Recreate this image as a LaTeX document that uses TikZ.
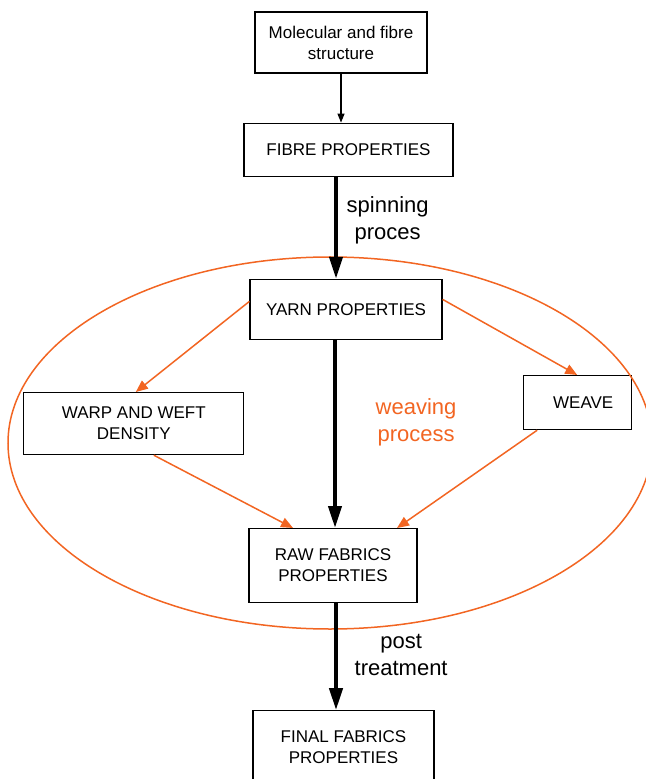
\documentclass[tikz,border=0pt]{standalone}
\usepackage{fontspec}
\setmainfont{Liberation Sans}
\usetikzlibrary{arrows.meta,positioning}
\definecolor{weaveorange}{RGB}{242,101,34}
\tikzset{
    %Define style for boxes
    punkt/.style={
           rectangle,
           draw=black, line width=0.6pt,
           fill=white,
           align=center,
           font=\fontsize{8.5}{10.5}\selectfont,
           inner sep=0pt},
    % Define arrow styles
    imply/.style={
           -{Triangle[length=4.5pt,width=3.5pt]},
           line width=0.6pt},
    flow/.style={
           -{Triangle[length=11pt,width=6.5pt]},
           line width=2pt},
    feed/.style={
           -{Triangle[length=6pt,width=5pt]},
           draw=weaveorange, line width=0.75pt},
    tag/.style={
           align=center,
           font=\fontsize{11}{13.5}\selectfont},
}
\begin{document}
\begin{tikzpicture}
 \useasboundingbox (0,0) rectangle (322.5pt,-389.5pt);
 %nodes
 \node[punkt, minimum width=86pt, minimum height=30.5pt] (mol) at (170.5pt,-21.25pt) {Molecular and fibre\\structure};
 \node[punkt, minimum width=104.5pt, minimum height=26.5pt, below=24.5pt of mol, xshift=3.75pt] (fibre) {FIBRE PROPERTIES};
 \node[punkt, minimum width=96pt, minimum height=30pt, below=51pt of fibre, xshift=-1.25pt] (yarn) {YARN PROPERTIES};
 \node[punkt, minimum width=84pt, minimum height=37pt, below=94pt of yarn, xshift=-6.5pt] (raw) {RAW FABRICS\\PROPERTIES};
 \node[punkt, minimum width=90.5pt, minimum height=36pt, below=53.5pt of raw, xshift=5.25pt] (final) {FINAL FABRICS\\PROPERTIES};
 \node[punkt, minimum width=110pt, minimum height=31pt, below left=26pt and 2.5pt of yarn] (warp) {WARP AND WEFT\\DENSITY};
 \node[punkt, minimum width=54pt, minimum height=27pt, below right=17.5pt and 40pt of yarn] (weave) {\hspace*{6pt}WEAVE};
 %weaving region
 \draw[weaveorange, line width=0.75pt] (165pt,-221.5pt) ellipse [x radius=161pt, y radius=93pt];
 %edges
 \draw[imply] (mol.south) -- (mol.south |- fibre.north);
 \draw[flow] ([xshift=-6.25pt]fibre.south) -- node[tag, right=1pt, pos=0.43] {spinning\\proces} ([xshift=-6.25pt]fibre.south |- yarn.north);
 \draw[flow] ([xshift=1pt]raw.north |- yarn.south) -- node[tag, right=16pt, pos=0.44, text=weaveorange] {weaving\\process} ([xshift=1pt]raw.north);
 \draw[flow] ([xshift=1.5pt]raw.south) -- node[tag, right=5pt, pos=0.48] {post\\treatment} ([xshift=1.5pt]raw.south |- final.north);
 \draw[feed] ([yshift=4pt]yarn.west) -- ([xshift=1pt]warp.north);
 \draw[feed] ([yshift=5pt]yarn.east) -- (weave.north);
 \draw[feed] ([xshift=10pt]warp.south) -- ([xshift=-20pt]raw.north);
 \draw[feed] ([xshift=-20pt]weave.south) -- ([xshift=32pt]raw.north);
\end{tikzpicture}
\end{document}
